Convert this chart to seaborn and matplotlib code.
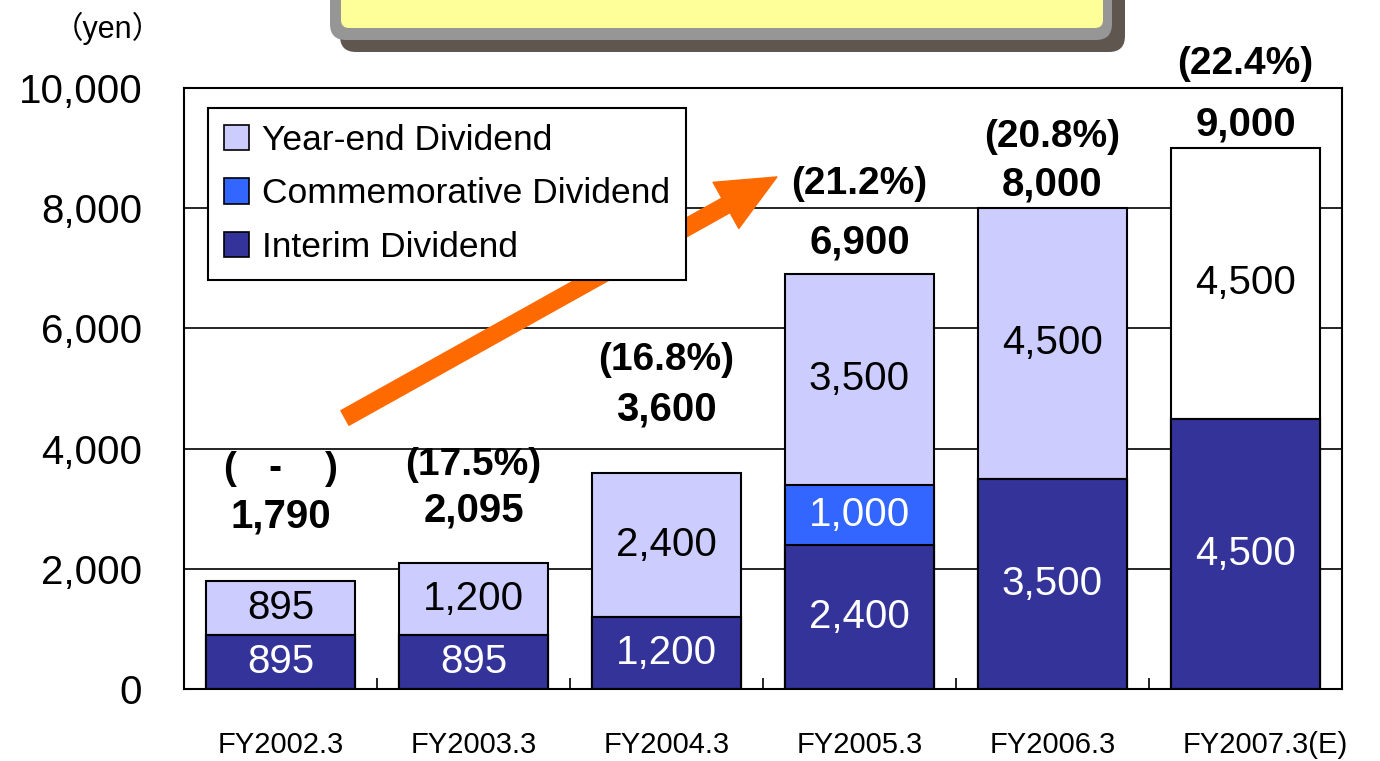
import matplotlib as mpl
mpl.use('Agg')
import matplotlib.pyplot as plt
from matplotlib.patches import Patch, FancyBboxPatch
from matplotlib.transforms import ScaledTranslation
import numpy as np
import pandas as pd
import seaborn as sns

# ── Data ──────────────────────────────────────────────────────────────────
years = ['FY2002.3', 'FY2003.3', 'FY2004.3', 'FY2005.3', 'FY2006.3', 'FY2007.3(E)']
interim = [895, 895, 1200, 2400, 3500, 4500]
commemorative = [0, 0, 0, 1000, 0, 0]
year_end = [895, 1200, 2400, 3500, 4500, 4500]
totals = [1790, 2095, 3600, 6900, 8000, 9000]
payout = ['(   -    )', '(17.5%)', '(16.8%)', '(21.2%)', '(20.8%)', '(22.4%)']
y_ticks = [0, 2000, 4000, 6000, 8000, 10000]

C_YEAREND = '#CCCCFF'
C_COMM = '#3366FF'
C_INTERIM = '#333399'
C_FORECAST = '#FFFFFF'
C_ARROW = '#FF6A00'

sns.set_theme(style='white')
plt.rcParams['font.family'] = ['Liberation Sans', 'DejaVu Sans']
plt.rcParams.update({'text.color': 'black', 'axes.labelcolor': 'black',
                     'xtick.color': 'black', 'ytick.color': 'black'})

fig = plt.figure(figsize=(13.8, 7.61), dpi=100)
ax = fig.add_axes([184 / 1380, 72 / 761, 1158 / 1380, 601 / 761])

df = pd.DataFrame({'year': years, 'interim': interim,
                   'comm': commemorative, 'yearend': year_end})
df['lvl2'] = df['interim'] + df['comm']
df['lvl3'] = df['lvl2'] + df['yearend']

top_cols = {y: (C_FORECAST if y.endswith('(E)') else C_YEAREND) for y in years}
bar_kw = dict(x='year', order=years, hue='year', width=0.77, saturation=1,
              edgecolor='black', linewidth=1.5, legend=False, ax=ax)
# stacked by overplotting cumulative levels
sns.barplot(data=df, y='lvl3', palette=top_cols, **bar_kw)
sns.barplot(data=df, y='lvl2', palette={y: C_COMM for y in years}, **bar_kw)
sns.barplot(data=df, y='interim', palette={y: C_INTERIM for y in years}, **bar_kw)

ax.set_xlim(-0.5, 5.5)
ax.set_ylim(0, 10000)
ax.set_yticks(y_ticks)
ax.set_yticklabels([f'{v:,}' for v in y_ticks])
ax.set_xlabel('')
ax.set_ylabel('')
ax.set_axisbelow(True)
ax.yaxis.grid(True, color='black', linewidth=1.2)
for s in ax.spines.values():
    s.set_visible(True)
    s.set_color('black')
    s.set_linewidth(1.5)
ax.tick_params(axis='y', length=0, pad=30, labelsize=29)
ax.tick_params(axis='x', which='major', length=0, pad=30, labelsize=21)
xlbls = ax.get_xticklabels()
# the forecast label sits a little right of its bar in the original
xlbls[-1].set_transform(xlbls[-1].get_transform()
                        + ScaledTranslation(0.2, 0, fig.dpi_scale_trans))
ax.set_xticks(np.arange(0.5, 5.5, 1), minor=True)
ax.tick_params(axis='x', which='minor', direction='in', length=8, width=1.2,
               bottom=True, color='black')

# segment labels
for i in range(len(years)):
    segs = [(0, interim[i], 'white'),
            (interim[i], commemorative[i], 'white'),
            (interim[i] + commemorative[i], year_end[i], 'black')]
    for base, h, col in segs:
        if h > 0:
            ax.text(i, base + h / 2, f'{h:,}', ha='center', va='center',
                    fontsize=29, color=col)

# totals and payout ratios (offsets in pixels above bar top)
tot_off = [65, 53, 63, 32, 24, 24]
pct_off = [47, 45, 50, 58, 47, 60]
for i, t in enumerate(totals):
    ax.annotate(f'{t:,}', xy=(i, t), xytext=(0, tot_off[i]),
                textcoords='offset pixels', ha='center', va='center',
                fontsize=29, fontweight='bold', annotation_clip=False)
    ax.annotate(payout[i], xy=(i, t), xytext=(0, tot_off[i] + pct_off[i]),
                textcoords='offset pixels', ha='center', va='center',
                fontsize=28, fontweight='bold', annotation_clip=False)

# growth arrow
ax.annotate('', xy=(0.512, 0.852), xytext=(0.139, 0.451),
            xycoords='axes fraction',
            arrowprops=dict(width=12, headwidth=38, headlength=42,
                            color=C_ARROW, shrink=0))

handles = [Patch(fc=C_YEAREND, ec='black', lw=1.2, label='Year-end Dividend'),
           Patch(fc=C_COMM, ec='black', lw=1.2, label='Commemorative Dividend'),
           Patch(fc=C_INTERIM, ec='black', lw=1.2, label='Interim Dividend')]
leg = ax.legend(handles=handles, loc='upper left', bbox_to_anchor=(0.0207, 0.967),
                borderaxespad=0, fontsize=25.5, handlelength=0.72, handleheight=0.72,
                handletextpad=0.35, labelspacing=0.58, frameon=True, fancybox=False,
                framealpha=1, edgecolor='black', borderpad=0.45)
leg.get_frame().set_linewidth(1.5)

# unit label
fig.text(108 / 1380, 1 - 28 / 761, '（yen）', ha='center', va='center',
         fontsize=22, family=['Liberation Sans', 'Noto Sans CJK JP'])

# title box (cut off at the top edge)
tr = fig.dpi_scale_trans
fig.patches.append(FancyBboxPatch((3.40, 7.09), 7.85, 1.2,
                                  boxstyle='round,pad=0,rounding_size=0.16',
                                  fc='#5F574F', ec='none', transform=tr))
fig.patches.append(FancyBboxPatch((3.30, 7.21), 7.82, 1.2,
                                  boxstyle='round,pad=0,rounding_size=0.16',
                                  fc='#969696', ec='none', transform=tr))
fig.patches.append(FancyBboxPatch((3.41, 7.33), 7.62, 1.2,
                                  boxstyle='round,pad=0,rounding_size=0.08',
                                  fc='#FFFF99', ec='none', transform=tr))

fig.savefig('out.png', dpi=100)
